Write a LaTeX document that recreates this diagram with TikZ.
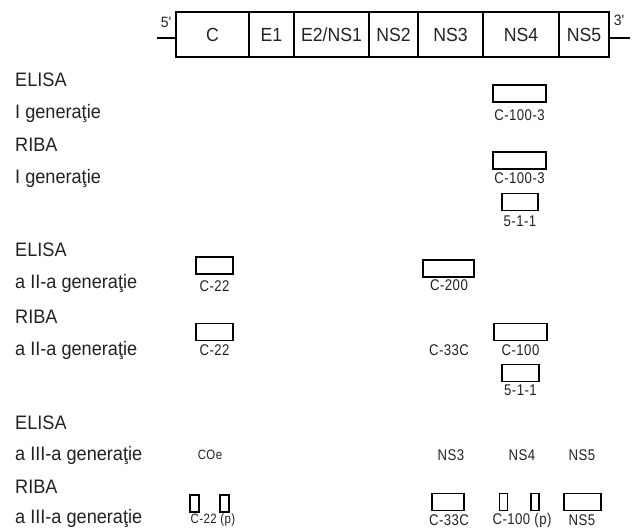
\documentclass[tikz,border=0pt]{standalone}
\usepackage{fontspec}
\setmainfont{Liberation Sans}
\newfontfamily\tagfont[FakeStretch=0.85,LetterSpace=3]{Liberation Sans}
\newfontfamily\capfont[FakeStretch=0.93]{Liberation Sans}
\begin{document}
\begin{tikzpicture}[x=1pt,y=-1pt,
  seg/.style={draw=black,line width=1.8pt,inner sep=0pt,minimum height=45pt,
    font=\capfont\fontsize{19}{20}\selectfont,text=ink},
  rowlab/.style={anchor=west,inner sep=0pt,font=\capfont\fontsize{19.5}{20}\selectfont,text=ink},
  probe/.style={draw=black,line width=1.8pt,inner sep=0pt,minimum height=17pt},
  tag/.style={inner sep=0pt,font=\tagfont\fontsize{15.5}{16}\selectfont,text=ink},
  smalltag/.style={tag,font=\tagfont\fontsize{13.5}{14}\selectfont},
  end/.style={inner sep=0pt,font=\capfont\fontsize{15}{16}\selectfont,text=ink}]
\definecolor{ink}{HTML}{222222}
\useasboundingbox (0,0) rectangle (636,531);

% genome map
\node[seg,minimum width=73pt] (sC)   at (212.5,34.5) {C};
\node[seg,minimum width=45pt] (sE1)  at (271.5,34.5) {E1};
\node[seg,minimum width=75pt] (sE2)  at (331.5,34.5) {E2/NS1};
\node[seg,minimum width=49pt] (sNS2) at (393.5,34.5) {NS2};
\node[seg,minimum width=65pt] (sNS3) at (450.5,34.5) {NS3};
\node[seg,minimum width=76pt] (sNS4) at (521,34.5) {NS4};
\node[seg,minimum width=50pt] (sNS5) at (584,34.5) {NS5};
\coordinate (l5) at (157,38);
\coordinate (r3) at (630,38);
\draw[line width=1.8pt] (l5) -- (sC.west |- l5);
\draw[line width=1.8pt] (sNS5.east |- r3) -- (r3);
\node[end] (p5) at (166,22) {5'};
\node[end] (p3) at (619,20) {3'};

% row captions
\node[rowlab] (e1) at (15,80) {ELISA};
\node[rowlab] (e1g) at (15,113) {I generaţie};
\node[rowlab] (r1) at (15,145) {RIBA};
\node[rowlab] (r1g) at (15,178) {I generaţie};
\node[rowlab] (e2) at (15,250) {ELISA};
\node[rowlab] (e2g) at (15,283) {a II-a generaţie};
\node[rowlab] (r2) at (15,317) {RIBA};
\node[rowlab] (r2g) at (15,350) {a II-a generaţie};
\node[rowlab] (e3) at (15,423) {ELISA};
\node[rowlab] (e3g) at (15,455) {a III-a generaţie};
\node[rowlab] (r3l) at (15,487) {RIBA};
\node[rowlab] (r3g) at (15,518) {a III-a generaţie};

% ELISA, first generation
\node[probe,minimum width=53pt] (a1) at (519.5,93.5) {};
\node[tag] (a1t) at (519.5,115.5) {C-100-3};

% RIBA, first generation
\node[probe,minimum width=53pt] (b1) at (519.5,160.5) {};
\node[tag] (b1t) at (519.5,178) {C-100-3};
\node[probe,minimum width=36pt] (b2) at (520,202) {};
\node[tag] (b2t) at (520,221) {5-1-1};

% ELISA, second generation
\node[probe,minimum width=37pt] (c1) at (214.5,265.5) {};
\node[tag] (c1t) at (214.5,286) {C-22};
\node[probe,minimum width=51pt] (c2) at (448.5,268.5) {};
\node[tag] (c2t) at (449,285) {C-200};

% RIBA, second generation
\node[probe,minimum width=37pt] (d1) at (214.5,332) {};
\node[tag] (d1t) at (214.5,350) {C-22};
\node[tag] (d2t) at (449,350) {C-33C};
\node[probe,minimum width=53pt] (d3) at (520.5,332) {};
\node[tag] (d3t) at (520.5,350) {C-100};
\node[probe,minimum width=37pt] (d4) at (520.5,373) {};
\node[tag] (d4t) at (520.5,390) {5-1-1};

% ELISA, third generation
\node[smalltag] (f1) at (210,455) {COe};
\node[tag] (f2) at (451,455) {NS3};
\node[tag] (f3) at (522,455) {NS4};
\node[tag] (f4) at (582,455) {NS5};

% RIBA, third generation
\node[probe,minimum width=9pt] (g1) at (194.5,503.5) {};
\node[probe,minimum width=9pt] (g2) at (224.5,503.5) {};
\node[smalltag] (g12t) at (213,520) {C-22 (p)};
\node[probe,minimum width=32pt] (g3) at (448,502) {};
\node[tag] (g3t) at (449,520) {C-33C};
\node[probe,minimum width=8pt] (g4) at (503.5,502) {};
\node[probe,minimum width=8pt] (g5) at (535,502) {};
\node[tag] (g45t) at (522,520) {C-100 (p)};
\node[probe,minimum width=37pt] (g6) at (582.5,502) {};
\node[tag] (g6t) at (582,520) {NS5};
\end{tikzpicture}
\end{document}
